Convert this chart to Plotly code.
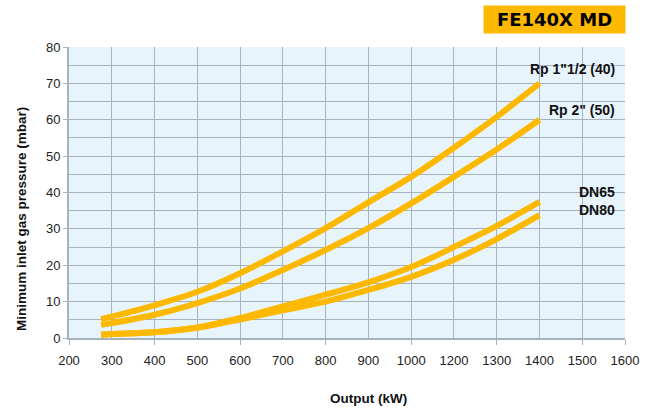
import plotly.graph_objects as go

# Axis positions (kW) of the read points
output_kw = [275, 300, 400, 500, 600, 700, 800, 900, 1000, 1100, 1200, 1300]

rp_1_1_2 = [5.2, 5.9, 9.0, 12.7, 17.8, 23.8, 30.2, 37.3, 44.3, 52.3, 60.8, 70.0]
rp_2 = [3.6, 4.1, 6.4, 9.6, 13.6, 18.7, 24.2, 30.2, 37.0, 44.3, 51.8, 60.0]
dn65 = [0.9, 1.1, 1.6, 2.9, 5.5, 8.7, 11.9, 15.3, 19.5, 25.0, 30.8, 37.4]
dn80 = [0.9, 1.1, 1.6, 2.8, 5.1, 7.6, 10.0, 13.2, 16.8, 21.5, 27.2, 33.8]

series_names = ['Rp 1"1/2 (40)', 'Rp 2" (50)', "DN65", "DN80"]
series_values = [rp_1_1_2, rp_2, dn65, dn80]
label_y = [73.9, 62.8, 40.2, 35.2]

x_tick_vals = [200, 300, 400, 500, 600, 700, 800, 900, 1000, 1100, 1200, 1300, 1400, 1500]
x_tick_text = ["200", "300", "400", "500", "600", "700", "800", "900", "1000",
               "1200", "1300", "1400", "1500", "1600"]
x_minor_ticks = [200, 400, 600, 800, 1000, 1200, 1400, 1500]

ORANGE = "#FDB900"
GRID = "#A7B2BC"
FONT = "Liberation Sans, Arial, sans-serif"

fig = go.Figure()
for name, vals in zip(series_names, series_values):
    fig.add_trace(go.Scatter(
        x=output_kw, y=vals, mode="lines", name=name,
        line=dict(color=ORANGE, width=6, shape="spline", smoothing=0.8),
        hoverinfo="x+y+name", showlegend=False,
    ))

for name, yv in zip(series_names, label_y):
    fig.add_annotation(
        x=1, xref="paper", y=yv, yref="y", text=f"<b>{name}</b>",
        xanchor="right", yanchor="middle", xshift=-8, showarrow=False,
        font=dict(family=FONT, size=14, color="#111111"),
    )

# Title box
fig.add_annotation(
    x=1, xref="paper", xshift=1, y=1, yref="paper", yshift=42,
    text="<b>FE140X MD</b>", xanchor="right", yanchor="top", showarrow=False,
    bgcolor=ORANGE, width=135, height=21, borderpad=3,
    font=dict(family="DejaVu Sans, sans-serif", size=18, color="#000000"),
)

# Axis titles
fig.add_annotation(
    x=0.539, xref="paper", y=0, yref="paper", yshift=-60, text="<b>Output (kW)</b>",
    showarrow=False, xanchor="center", yanchor="middle",
    font=dict(family=FONT, size=13.5, color="#111111"),
)
fig.add_annotation(
    x=0, xref="paper", xshift=-47, y=0.409, yref="paper", textangle=-90,
    text="<b>Minimum inlet gas pressure (mbar)</b>",
    showarrow=False, xanchor="center", yanchor="middle",
    font=dict(family=FONT, size=13.5, color="#111111"),
)

fig.update_layout(
    width=653, height=412,
    margin=dict(l=69, r=28, t=47, b=74),
    paper_bgcolor="white", plot_bgcolor="#E8F4FC",
    font=dict(family=FONT, size=13, color="#222222"),
)
fig.update_xaxes(
    range=[200, 1500], tickvals=x_tick_vals, ticktext=x_tick_text,
    showgrid=True, gridcolor=GRID, gridwidth=1, ticks="", ticklabelstandoff=9,
    showline=True, linecolor=GRID, linewidth=2, zeroline=False,
    minor=dict(tickvals=x_minor_ticks, ticks="outside", ticklen=5, tickcolor=GRID,
               showgrid=False),
)
fig.update_yaxes(
    range=[0, 80], dtick=10, tick0=0, showgrid=True, gridcolor=GRID, gridwidth=1,
    ticks="outside", ticklen=4, tickcolor=GRID,
    showline=True, linecolor=GRID, linewidth=2, zeroline=False,
    minor=dict(dtick=5, showgrid=True, gridcolor=GRID, gridwidth=1),
)

# Remove the default 8px page margin so the figure fills the window exactly.
fig.write_html(
    "out.html",
    config={"displayModeBar": False},
    post_script="document.body.style.margin='0px';",
)
